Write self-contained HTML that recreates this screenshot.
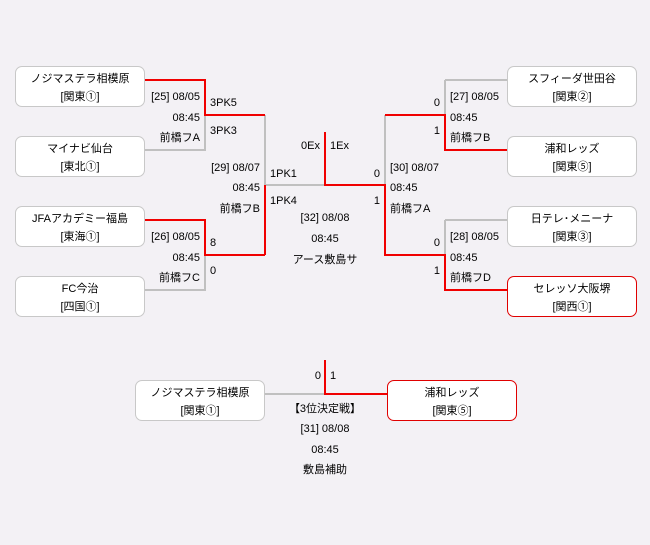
<!DOCTYPE html>
<html><head><meta charset="utf-8"><style>
body{margin:0;background:#f3f1f5;}
#c{position:relative;width:650px;height:545px;background:#f3f1f5;font-family:"Liberation Sans","Noto Sans CJK JP",sans-serif;font-size:11px;color:#000;overflow:hidden}
.b{position:absolute;width:128px;height:36px;background:#fff;border:1px solid #c8c8c8;border-radius:7px;text-align:center;line-height:18px;padding-top:3px;box-sizing:content-box}
.r{border-color:#e00000}
.t{position:absolute;white-space:nowrap;line-height:13px}
.R{text-align:right}
svg{position:absolute;left:0;top:0}
</style></head><body><div id="c">
<svg width="650" height="545">
<g fill="none" stroke-width="2" shape-rendering="crispEdges">
<path d="M145 150H205V115M205 255V290H145M265 115V185M265 185H325M385 115V185M445 80V115M445 80H507M445 220V255M445 220H507M265 394H325" stroke="#c0c0c0"/>
<path d="M145 80H205V115H265M145 220H205V255H265M265 185V255M325 132V185H385V255H445V290H507M385 185M385 115H445V150H507M325 360V394H387" stroke="#f00000"/>
</g></svg>
<div class="b" style="left:15px;top:66px">ノジマステラ相模原<br>[関東①]</div>
<div class="b" style="left:15px;top:136px">マイナビ仙台<br>[東北①]</div>
<div class="b" style="left:15px;top:206px">JFAアカデミー福島<br>[東海①]</div>
<div class="b" style="left:15px;top:276px">FC今治<br>[四国①]</div>
<div class="b" style="left:507px;top:66px">スフィーダ世田谷<br>[関東②]</div>
<div class="b" style="left:507px;top:136px">浦和レッズ<br>[関東⑤]</div>
<div class="b" style="left:507px;top:206px">日テレ･メニーナ<br>[関東③]</div>
<div class="b r" style="left:507px;top:276px">セレッソ大阪堺<br>[関西①]</div>
<div class="b" style="left:135px;top:380px">ノジマステラ相模原<br>[関東①]</div>
<div class="b r" style="left:387px;top:380px">浦和レッズ<br>[関東⑤]</div>

<div class="t R" style="right:450px;top:91px">[25] 08/05</div>
<div class="t R" style="right:450px;top:112px">08:45</div>
<div class="t R" style="right:450px;top:132px">前橋フA</div>
<div class="t R" style="right:450px;top:231px">[26] 08/05</div>
<div class="t R" style="right:450px;top:252px">08:45</div>
<div class="t R" style="right:450px;top:272px">前橋フC</div>
<div class="t" style="left:210px;top:97px">3PK5</div>
<div class="t" style="left:210px;top:125px">3PK3</div>
<div class="t" style="left:210px;top:237px">8</div>
<div class="t" style="left:210px;top:265px">0</div>
<div class="t R" style="right:390px;top:162px">[29] 08/07</div>
<div class="t R" style="right:390px;top:182px">08:45</div>
<div class="t R" style="right:390px;top:203px">前橋フB</div>
<div class="t" style="left:270px;top:168px">1PK1</div>
<div class="t" style="left:270px;top:195px">1PK4</div>
<div class="t R" style="right:330px;top:140px">0Ex</div>
<div class="t" style="left:330px;top:140px">1Ex</div>
<div class="t" style="left:225px;width:200px;text-align:center;top:212px">[32] 08/08</div>
<div class="t" style="left:225px;width:200px;text-align:center;top:233px">08:45</div>
<div class="t" style="left:225px;width:200px;text-align:center;top:254px">アース敷島サ</div>
<div class="t R" style="right:270px;top:168px">0</div>
<div class="t R" style="right:270px;top:195px">1</div>
<div class="t" style="left:390px;top:162px">[30] 08/07</div>
<div class="t" style="left:390px;top:182px">08:45</div>
<div class="t" style="left:390px;top:203px">前橋フA</div>
<div class="t R" style="right:210px;top:97px">0</div>
<div class="t R" style="right:210px;top:125px">1</div>
<div class="t" style="left:450px;top:91px">[27] 08/05</div>
<div class="t" style="left:450px;top:112px">08:45</div>
<div class="t" style="left:450px;top:132px">前橋フB</div>
<div class="t R" style="right:210px;top:237px">0</div>
<div class="t R" style="right:210px;top:265px">1</div>
<div class="t" style="left:450px;top:231px">[28] 08/05</div>
<div class="t" style="left:450px;top:252px">08:45</div>
<div class="t" style="left:450px;top:272px">前橋フD</div>
<div class="t R" style="right:329px;top:370px">0</div>
<div class="t" style="left:330px;top:370px">1</div>
<div class="t" style="left:225px;width:200px;text-align:center;top:403px">【3位決定戦】</div>
<div class="t" style="left:225px;width:200px;text-align:center;top:423px">[31] 08/08</div>
<div class="t" style="left:225px;width:200px;text-align:center;top:444px">08:45</div>
<div class="t" style="left:225px;width:200px;text-align:center;top:464px">敷島補助</div>
</div></body></html>
